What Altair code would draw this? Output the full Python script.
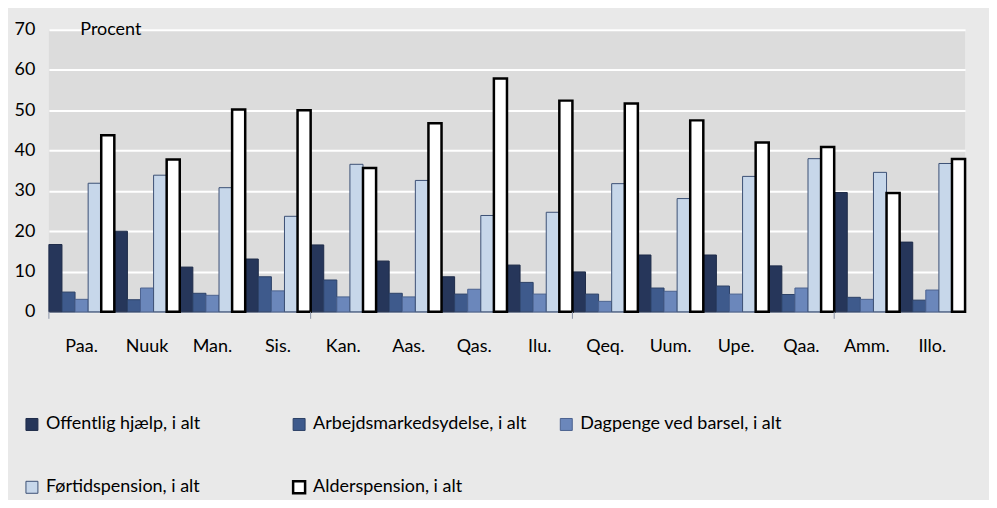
import altair as alt
import pandas as pd

categories = ["Paa.", "Nuuk", "Man.", "Sis.", "Kan.", "Aas.", "Qas.", "Ilu.",
              "Qeq.", "Uum.", "Upe.", "Qaa.", "Amm.", "Illo."]
series = ["Offentlig hjælp, i alt", "Arbejdsmarkedsydelse, i alt",
          "Dagpenge ved barsel, i alt", "Førtidspension, i alt",
          "Alderspension, i alt"]
offentlig = [16.7, 20.0, 11.1, 13.1, 16.6, 12.6, 8.7, 11.6, 9.9, 14.1, 14.1, 11.4, 29.6, 17.3]
arbejds = [4.9, 3.0, 4.6, 8.7, 7.9, 4.6, 4.4, 7.3, 4.4, 5.9, 6.4, 4.3, 3.6, 2.9]
dagpenge = [3.1, 5.9, 4.1, 5.2, 3.7, 3.7, 5.6, 4.4, 2.6, 5.1, 4.4, 5.9, 3.1, 5.4]
fortids = [31.9, 33.9, 30.8, 23.7, 36.6, 32.6, 23.9, 24.7, 31.8, 28.1, 33.6, 38.0, 34.6, 36.8]
alders = [43.8, 37.8, 50.2, 50.0, 35.7, 46.8, 57.9, 52.4, 51.7, 47.5, 42.0, 40.9, 29.5, 37.9]
tick_cats = ["Paa.", "Kan.", "Qeq.", "Amm."]

fills = ["#26365a", "#3e5a8c", "#6b87bb", "#c7d7ea", "#ffffff"]
strokes = ["#1e2b48", "#2c4066", "#4b6290", "#3c5075", "#000000"]
stroke_widths = [1, 1, 1, 1, 2.5]

values = [offentlig, arbejds, dagpenge, fortids, alders]
rows = []
for s, vals in zip(series, values):
    for c, v in zip(categories, vals):
        rows.append({"kommune": c, "serie": s, "pct": v})
df = pd.DataFrame(rows)
ticks_df = pd.DataFrame({"kommune": tick_cats})

FONT = "Lato"
FS = 18


def mk_legend():
    return alt.Legend(title=None, orient="none", legendX=-26, legendY=386,
                      direction="horizontal", columns=3, gridAlign="all",
                      columnPadding=28, rowPadding=42, symbolType="square",
                      symbolSize=144, labelFontSize=FS, labelColor="#000000",
                      labelOffset=5, padding=0, labelLimit=400)


x_scale = alt.Scale(domain=categories, paddingInner=0, paddingOuter=0)

bars = alt.Chart(df).mark_bar().encode(
    x=alt.X("kommune:N", scale=x_scale, sort=categories,
            axis=alt.Axis(title=None, labelAngle=0, ticks=False, labelPadding=26,
                          labelFontSize=FS, labelColor="#000000", domainColor="#8a94a8",
                          domainWidth=1)),
    xOffset=alt.XOffset("serie:N", sort=series, scale=alt.Scale(domain=series, paddingInner=0, paddingOuter=0)),
    y=alt.Y("pct:Q", scale=alt.Scale(domain=[0, 70], nice=False),
            axis=alt.Axis(values=[0, 10, 20, 30, 40, 50, 60, 70], title="Procent",
                          titleAngle=0, titleX=31, titleY=0, titleAlign="left",
                          titleBaseline="middle", titleFontWeight="normal",
                          titleFontSize=FS, titleColor="#000000",
                          labelFontSize=FS, labelColor="#000000", labelPadding=14,
                          ticks=False, domain=False, grid=True, gridColor="#ffffff",
                          gridWidth=2)),
    fill=alt.Fill("serie:N", sort=series, scale=alt.Scale(domain=series, range=fills),
                  legend=mk_legend()),
    stroke=alt.Stroke("serie:N", sort=series, scale=alt.Scale(domain=series, range=strokes),
                      legend=mk_legend()),
    strokeWidth=alt.StrokeWidth("serie:O", sort=series,
                                scale=alt.Scale(type="ordinal", domain=series, range=stroke_widths),
                                legend=mk_legend()),
)

tick_marks = alt.Chart(ticks_df).mark_rule(color="#8a94a8", strokeWidth=1).encode(
    x=alt.X("kommune:N", scale=x_scale, sort=categories, bandPosition=0),
    y=alt.value(283),
    y2=alt.value(290),
)

chart = alt.layer(bars, tick_marks).properties(
    width=919,
    height=283,
    autosize=alt.AutoSizeParams(type="none"),
    padding={"left": 41, "top": 21, "right": 24, "bottom": 188},
    background="#e9e9e9",
).configure(font=FONT).configure_view(fill="#dcdcdc", strokeWidth=0)

chart.save("out.html", embed_options={"renderer": "svg", "actions": False})
